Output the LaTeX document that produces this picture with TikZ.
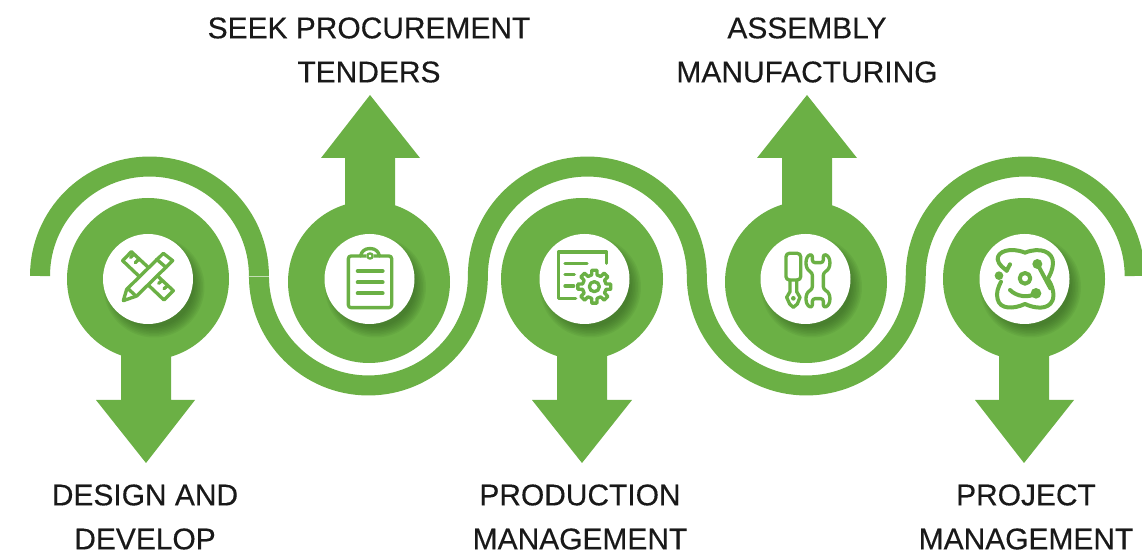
\documentclass[tikz,border=0pt]{standalone}
\usepackage{fontspec}
\setmainfont{Liberation Sans}
\newfontfamily\labelfont{Liberation Sans}[FakeBold=0.3]
\definecolor{leaf}{HTML}{6BB045}
\definecolor{leafdark}{HTML}{2F5A1E}
\definecolor{seam}{HTML}{C4DFB4}
\tikzset{
  lobe/.style={circle,fill=leaf,minimum size=121.5pt,inner sep=0pt},
  disc/.style={circle,fill=white,minimum size=67.5pt,inner sep=0pt},
  label/.style={align=center,font=\labelfont\fontsize{22.45}{33}\selectfont,text=black!90,inner sep=0pt},
  iconline/.style={draw=leaf,line width=2.5pt,line join=round,line cap=round},
  iconscope/.style={x=.25pt,y=-.25pt},
  arrowshape/.style={fill=leaf,draw=none},
}
\newcommand{\softshadow}[1]{%
  \foreach \r in {40,41.5,...,51}{
    \fill[leafdark,opacity=.085] ($(#1)+(6,8)$) circle[radius=\r*.75pt];
  }}
\usetikzlibrary{calc}
\begin{document}
\begin{tikzpicture}[x=.75pt,y=-.75pt]
\useasboundingbox (0,0) rectangle (1142,555);
% ribbon
\draw[leaf,line width=15pt] (40,276)
  arc[start angle=180,end angle=0,radius=82.1pt]
  arc[start angle=180,end angle=360,radius=82.1pt]
  arc[start angle=180,end angle=0,radius=82.1pt]
  arc[start angle=180,end angle=360,radius=82.1pt]
  arc[start angle=180,end angle=0,radius=82.1pt];
\coordinate (seamL) at (249,276);
\coordinate (seamR) at (269,276);
\draw[seam,line width=.5pt] (seamL) -- (seamR);
% arrows
\fill[arrowshape] (121,340) -- (171,340) -- (171,400) -- (195,400) -- (146,463) -- (96,400) -- (121,400) -- cycle;
\fill[arrowshape] (345,220) -- (395,220) -- (395,158) -- (420,158) -- (370,95) -- (321,158) -- (345,158) -- cycle;
\fill[arrowshape] (557,340) -- (607,340) -- (607,400) -- (632,400) -- (582,463) -- (532,400) -- (557,400) -- cycle;
\fill[arrowshape] (782,220) -- (832,220) -- (832,158) -- (857,158) -- (807,95) -- (757,158) -- (782,158) -- cycle;
\fill[arrowshape] (999,340) -- (1049,340) -- (1049,400) -- (1074,400) -- (1024,463) -- (975,400) -- (999,400) -- cycle;
% lobes
\node[lobe] (lobeA) at (148,279) {};
\node[lobe] (lobeB) at (369,282) {};
\node[lobe] (lobeC) at (582,279) {};
\node[lobe] (lobeD) at (806,282) {};
\node[lobe] (lobeE) at (1024,279) {};
% shadows
\begin{scope}
\softshadow{148,279}
\softshadow{369.5,279}
\softshadow{584.5,279}
\softshadow{805.5,279}
\softshadow{1024.5,279}
\end{scope}
% discs
\node[disc] (discA) at (148,279) {};
\node[disc] (discB) at (369.5,279) {};
\node[disc] (discC) at (584.5,279) {};
\node[disc] (discD) at (805.5,279) {};
\node[disc] (discE) at (1024.5,279) {};
% icon A : ruler and pencil
\begin{scope}[shift={(100,230)},iconscope]
\draw[iconline] (68,92) -- (94,65) -- (220,182) -- (192,210) -- cycle;
\draw[iconline] (100,74) -- (92,82) (116,88) -- (106,98) (186,152) -- (176,160) (202,168) -- (192,176);
\fill[white] (80,178) -- (190,70) -- (218,92) -- (110,198) -- (70,212) -- cycle;
\draw[iconline] (80,178) -- (190,70) -- (218,92) -- (110,198) -- (70,212) -- cycle;
\draw[iconline] (170,88) -- (198,112) (84,176) -- (108,198);
\end{scope}
% icon B : clipboard
\begin{scope}[shift={(320,230)},iconscope]
\draw[iconline,rounded corners=2pt] (85,78) rectangle (215,233);
\draw[iconline,rounded corners=5pt] (122,78) -- (126,56) -- (174,56) -- (178,78);
\fill[white] (150,78) circle[radius=12];
\draw[iconline,line width=1.7pt] (150,78) circle[radius=8];
\draw[iconline,line width=2.9pt] (113,123) -- (188,123) (113,157) -- (188,157) (113,190) -- (188,190);
\end{scope}
% icon C : document and gear
\begin{scope}[shift={(535,230)},iconscope]
\draw[iconline] (215,100) -- (215,66) -- (70,66) -- (70,205) -- (122,205);
\draw[iconline] (90,100) -- (156,100) (90,133) -- (118,133) (90,168) -- (116,168);
\begin{scope}[shift={(178,170)}]
\draw[iconline,fill=white] (-13:36) \foreach \a in {0,45,...,315}{ -- (\a-13:36) -- (\a-9:50) -- (\a+9:50) -- (\a+13:36)} -- cycle;
\draw[iconline] (0,0) circle[radius=15];
\end{scope}
\end{scope}
% icon D : screwdriver and wrench
\begin{scope}[shift={(755,230)},iconscope]
\draw[iconline,rounded corners=2.5pt] (93,70) rectangle (137,150);
\draw[iconline] (105,150) -- (105,185) -- (95,202) -- (104,222) -- (115,232) -- (127,222) -- (135,202) -- (125,185) -- (125,150);
\fill[leaf] (115,205) circle[radius=7];
\draw[iconline,rounded corners=2pt] (172,72) .. controls (150,80) and (148,115) .. (172,128) -- (172,178) .. controls (148,190) and (150,225) .. (172,233) -- (172,206) -- (205,206) -- (205,233) .. controls (228,225) and (230,190) .. (205,178) -- (205,128) .. controls (230,115) and (228,80) .. (205,72) -- (205,98) -- (172,98) -- cycle;
\end{scope}
% icon E : atom
\begin{scope}[shift={(975,230)},iconscope]
\begin{scope}[iconline/.append style={line width=3pt}]
\draw[iconline] (95,122) .. controls (88,115) and (70,105) .. (68,88) .. controls (66,65) and (105,50) .. (150,68) .. controls (195,50) and (235,65) .. (234,100) .. controls (233,120) and (225,135) .. (218,147) .. controls (232,165) and (240,195) .. (232,212) .. controls (220,240) and (180,236) .. (150,222) .. controls (115,238) and (75,238) .. (68,208) .. controls (62,190) and (70,170) .. (78,155);
\draw[iconline] (95,122) -- (105,103);
\draw[iconline] (187,102) -- (226,175);
\draw[iconline] (105,180) .. controls (125,200) and (160,205) .. (183,190);
\draw[iconline] (150,145) circle[radius=16];
\end{scope}
\fill[leaf] (187,102) circle[radius=15] (183,190) circle[radius=16] (72,137) circle[radius=13];
\end{scope}
% labels
\node[label] (labelA) at (145,517) {DESIGN AND\\DEVELOP};
\node[label] (labelB) at (369,50) {SEEK PROCUREMENT\\TENDERS};
\node[label] (labelC) at (580,517) {PRODUCTION\\MANAGEMENT};
\node[label] (labelD) at (807,50) {ASSEMBLY\\MANUFACTURING};
\node[label] (labelE) at (1026,517) {PROJECT\\MANAGEMENT};
\end{tikzpicture}
\end{document}
